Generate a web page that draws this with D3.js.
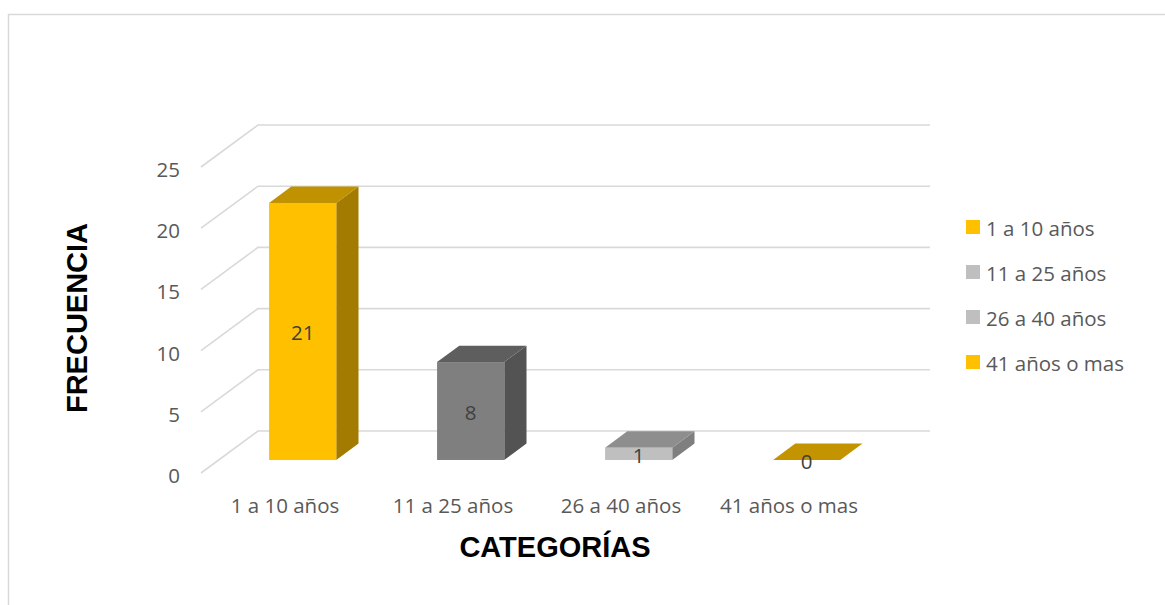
<!DOCTYPE html>
<html>
<head>
<meta charset="utf-8">
<script src="https://cdn.jsdelivr.net/npm/d3@7"></script>
<style>
  body { margin: 0; background: #fff; }
  text { font-family: "Open Sans", sans-serif; }
</style>
</head>
<body>
<div id="chart"></div>
<script>
// data
const categories = ["1 a 10 años", "11 a 25 años", "26 a 40 años", "41 años o mas"];
const values = [21, 8, 1, 0];
const yTicks = [0, 5, 10, 15, 20, 25];
const legendLabels = ["1 a 10 años", "11 a 25 años", "26 a 40 años", "41 años o mas"];

// styles
const frontColors = ["#FFC000", "#7F7F7F", "#BFBFBF", "#FFC000"];
const topColors = ["#C09100", "#5E5E5E", "#8E8E8E", "#C49400"];
const sideColors = ["#A37B00", "#535353", "#7F7F7F", "#A37B00"];
const legendColors = ["#FFC000", "#BFBFBF", "#BFBFBF", "#FFC000"];

const width = 1165, height = 605;

// floor front line and 3d depth
const floorY = 473;
const depthX = 57, depthY = 42;
const tFront = 0.31, tBack = 0.70;

const svg = d3.select("#chart").append("svg")
  .attr("width", width)
  .attr("height", height);

// frame
svg.append("path")
  .attr("d", "M8.5,605 L8.5,14.5 L1165,14.5")
  .attr("fill", "none")
  .attr("stroke", "#d9d9d9")
  .attr("stroke-width", 1.5);

const x = d3.scaleBand()
  .domain(categories)
  .range([201, 873])
  .paddingInner(0.6)
  .paddingOuter(0.3);

const y = d3.scaleLinear()
  .domain([0, 25])
  .range([0, 306]);

// gridlines (slanted side wall + back wall)
svg.append("g").selectAll("path")
  .data(yTicks)
  .enter().append("path")
  .attr("d", d => {
    const fy = floorY - y(d);
    return `M201,${fy} L${201 + depthX},${fy - depthY} L${873 + depthX},${fy - depthY}`;
  })
  .attr("fill", "none")
  .attr("stroke", "#d9d9d9")
  .attr("stroke-width", 1.6);

// y tick labels
svg.append("g").selectAll("text")
  .data(yTicks)
  .enter().append("text")
  .attr("x", 180)
  .attr("y", d => floorY - y(d) + 2)
  .attr("text-anchor", "end")
  .attr("dominant-baseline", "central")
  .attr("fill", "#595959")
  .style("font-size", "20.5px")
  .text(d => d);

// bars
const dx = (tBack - tFront) * depthX;
const dy = (tBack - tFront) * depthY;
const bw = x.bandwidth();

const bars = svg.append("g").selectAll("g")
  .data(values)
  .enter().append("g");

const bx = (d, i) => x(categories[i]) + tFront * depthX;
const by = tFront * depthY;

bars.append("path") // side
  .attr("d", (d, i) => {
    const x0 = bx(d, i) + bw, yb = floorY - by, yt = yb - y(d);
    return `M${x0},${yt} L${x0},${yb} L${x0 + dx},${yb - dy} L${x0 + dx},${yt - dy} Z`;
  })
  .attr("fill", (d, i) => sideColors[i]);

bars.append("path") // top
  .attr("d", (d, i) => {
    const x0 = bx(d, i), yt = floorY - by - y(d);
    return `M${x0},${yt} L${x0 + bw},${yt} L${x0 + bw + dx},${yt - dy} L${x0 + dx},${yt - dy} Z`;
  })
  .attr("fill", (d, i) => topColors[i]);

bars.append("rect") // front
  .attr("x", (d, i) => bx(d, i))
  .attr("y", d => floorY - by - y(d))
  .attr("width", bw)
  .attr("height", d => y(d))
  .attr("fill", (d, i) => frontColors[i]);

// data labels
bars.append("text")
  .attr("x", (d, i) => bx(d, i) + bw / 2)
  .attr("y", d => floorY - by - y(d) / 2 + 1)
  .attr("text-anchor", "middle")
  .attr("dominant-baseline", "central")
  .attr("fill", "#404040")
  .style("font-size", "20.5px")
  .text(d => d);

// category labels
svg.append("g").selectAll("text")
  .data(categories)
  .enter().append("text")
  .attr("x", d => x(d) + bw / 2)
  .attr("y", 505)
  .attr("text-anchor", "middle")
  .attr("dominant-baseline", "central")
  .attr("fill", "#595959")
  .style("font-size", "20.5px")
  .text(d => d);

// axis titles
svg.append("text")
  .attr("transform", "translate(87,318) rotate(-90)")
  .attr("text-anchor", "middle")
  .style("font-family", "'Liberation Sans', Arial, sans-serif")
  .style("font-weight", "bold")
  .style("font-size", "29px")
  .attr("fill", "#000")
  .text("FRECUENCIA");

svg.append("text")
  .attr("x", 555)
  .attr("y", 557)
  .attr("text-anchor", "middle")
  .style("font-family", "'Liberation Sans', Arial, sans-serif")
  .style("font-weight", "bold")
  .style("font-size", "29px")
  .attr("fill", "#000")
  .text("CATEGORÍAS");

// legend
const legend = svg.append("g").selectAll("g")
  .data(legendLabels)
  .enter().append("g")
  .attr("transform", (d, i) => `translate(966, ${227 + i * 45})`);

legend.append("rect")
  .attr("x", 0)
  .attr("y", -7)
  .attr("width", 14)
  .attr("height", 14)
  .attr("fill", (d, i) => legendColors[i]);

legend.append("text")
  .attr("x", 20)
  .attr("y", 1)
  .attr("dominant-baseline", "central")
  .attr("fill", "#595959")
  .style("font-size", "20.5px")
  .text(d => d);
</script>
</body>
</html>
